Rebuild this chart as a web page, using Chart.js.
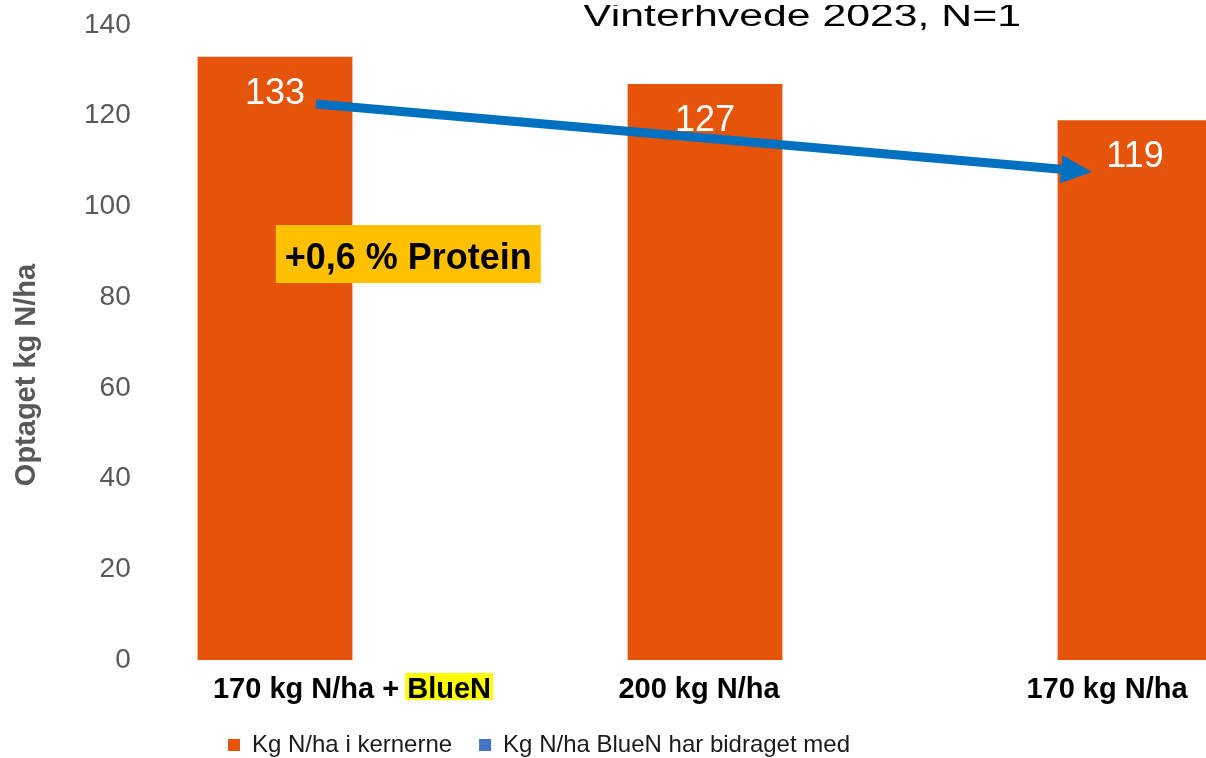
<!DOCTYPE html>
<html>
<head>
<meta charset="utf-8">
<script src="https://cdn.jsdelivr.net/npm/chart.js@4"></script>
<style>
  html, body { margin: 0; padding: 0; overflow: hidden; background: #fff; }
  #wrap { position: relative; width: 1206px; height: 758px; overflow: hidden; }
  canvas { position: absolute; left: 0; top: 0; }
</style>
</head>
<body>
<div id="wrap"><canvas id="chart" width="1350" height="758" style="width:1350px;height:758px"></canvas></div>
<script>
// data
const categories = ['170 kg N/ha + BlueN', '200 kg N/ha', '170 kg N/ha'];
const kernelN = [133, 127, 119];
const bluenN = [0, 0, 0];
const seriesNames = ['Kg N/ha i kernerne', 'Kg N/ha BlueN har bidraget med'];
const yMax = 140;
const yStep = 20;

const chartTitle = 'Vinterhvede 2023, N=1';
const yTitle = 'Optaget kg N/ha';
const highlightWord = 'BlueN';
const proteinNote = '+0,6 % Protein';

// annotation anchors in data units (category index, kg N/ha)
const notePos = [0.31, 89.5];
const arrowFrom = [0.095, 122.6];
const arrowTo = [1.9, 107.6];

const FONT = '"Liberation Sans", Arial, sans-serif';
const orange = '#E5540A';
const blue = '#4472C4';
const arrowBlue = '#0070C0';
const legendSize = 24;

// x label shifts (px) as they sit on the slide
const xLabelShift = [77, -6, -28];

function drawArrow(ctx, x1, y1, x2, y2) {
    const ang = Math.atan2(y2 - y1, x2 - x1);
    const headLen = 31;
    const headHalf = 14;
    const bx = x2 - headLen * Math.cos(ang);
    const by = y2 - headLen * Math.sin(ang);

    ctx.save();
    ctx.strokeStyle = arrowBlue;
    ctx.fillStyle = arrowBlue;
    ctx.lineWidth = 9;
    ctx.beginPath();
    ctx.moveTo(x1, y1);
    ctx.lineTo(bx, by);
    ctx.stroke();

    ctx.beginPath();
    ctx.moveTo(x2, y2);
    ctx.lineTo(bx + headHalf * Math.sin(ang), by - headHalf * Math.cos(ang));
    ctx.lineTo(bx - headHalf * Math.sin(ang), by + headHalf * Math.cos(ang));
    ctx.closePath();
    ctx.fill();
    ctx.restore();
}

const decorations = {
    id: 'decorations',
    afterLayout(chart) {
        // legend sits left of centre and a little lower on the slide
        const lg = chart.legend;
        const pad = lg.options.labels.padding;
        const dx = 228 - (lg.left + pad);
        lg.left += dx;
        lg.right += dx;
        const dy = 745 - (lg.top + pad + legendSize / 2);
        lg.top += dy;
        lg.bottom += dy;
    },
    afterDatasetsDraw(chart) {
        const ctx = chart.ctx;
        const xs = chart.scales.x;
        const ys = chart.scales.y;

        // values inside the bars
        ctx.save();
        ctx.fillStyle = '#ffffff';
        ctx.font = '36px ' + FONT;
        ctx.textAlign = 'center';
        ctx.textBaseline = 'alphabetic';
        chart.getDatasetMeta(0).data.forEach((bar, i) => {
            ctx.fillText(String(kernelN[i]), bar.x, bar.y + 47);
        });
        ctx.restore();

        // protein note box
        ctx.save();
        ctx.font = 'bold 36px ' + FONT;
        const nx = xs.getPixelForValue(notePos[0]);
        const ny = ys.getPixelForValue(notePos[1]);
        const tw = ctx.measureText(proteinNote).width;
        const bw = tw + 18;
        const bh = 58;
        ctx.fillStyle = '#FFC000';
        ctx.fillRect(nx - bw / 2, ny - bh / 2, bw, bh);
        ctx.fillStyle = '#000000';
        ctx.textAlign = 'center';
        ctx.textBaseline = 'alphabetic';
        ctx.fillText(proteinNote, nx, ny + 15);
        ctx.restore();

        drawArrow(ctx,
            xs.getPixelForValue(arrowFrom[0]), ys.getPixelForValue(arrowFrom[1]),
            xs.getPixelForValue(arrowTo[0]), ys.getPixelForValue(arrowTo[1]));
    },
    afterDraw(chart) {
        const ctx = chart.ctx;
        const xs = chart.scales.x;
        const area = chart.chartArea;

        // title: stretched text box, cut at the top like on the slide
        ctx.save();
        ctx.beginPath();
        ctx.rect(0, 5, chart.width, chart.height);
        ctx.clip();
        ctx.translate(802, 26);
        ctx.scale(1.38, 1);
        ctx.font = '31px ' + FONT;
        ctx.fillStyle = '#000000';
        ctx.textAlign = 'center';
        ctx.textBaseline = 'alphabetic';
        ctx.fillText(chartTitle, 0, 0);
        ctx.restore();

        // y axis title
        ctx.save();
        ctx.translate(27, 375);
        ctx.rotate(-Math.PI / 2);
        ctx.font = 'bold 29px ' + FONT;
        ctx.fillStyle = '#595959';
        ctx.textAlign = 'center';
        ctx.textBaseline = 'middle';
        ctx.fillText(yTitle, 0, 0);
        ctx.restore();

        // category labels, BlueN highlighted
        ctx.save();
        ctx.font = 'bold 29px ' + FONT;
        ctx.textBaseline = 'alphabetic';
        ctx.textAlign = 'left';
        const baseY = area.bottom + 38;
        categories.forEach((lab, i) => {
            const w = ctx.measureText(lab).width;
            const left = xs.getPixelForValue(i) + xLabelShift[i] - w / 2;
            const k = lab.indexOf(highlightWord);
            if (k >= 0) {
                const hx = left + ctx.measureText(lab.slice(0, k)).width;
                const hw = ctx.measureText(highlightWord).width;
                ctx.fillStyle = '#FFFF00';
                ctx.fillRect(hx - 2, baseY - 25, hw + 4, 27);
            }
            ctx.fillStyle = '#000000';
            ctx.fillText(lab, left, baseY);
        });
        ctx.restore();
    }
};

Chart.defaults.font.family = FONT;

new Chart(document.getElementById('chart'), {
    type: 'bar',
    data: {
        labels: categories,
        datasets: [
            {
                label: seriesNames[0],
                data: kernelN,
                backgroundColor: orange,
                borderWidth: 0,
                categoryPercentage: 1,
                barPercentage: 0.36
            },
            {
                label: seriesNames[1],
                data: bluenN,
                backgroundColor: blue,
                borderWidth: 0,
                categoryPercentage: 1,
                barPercentage: 0.36
            }
        ]
    },
    options: {
        responsive: false,
        animation: false,
        layout: { padding: { top: 25, left: 0, right: 0, bottom: 0 } },
        plugins: {
            title: { display: false },
            tooltip: { enabled: false },
            legend: {
                position: 'bottom',
                align: 'start',
                labels: {
                    boxWidth: 12,
                    boxHeight: 12,
                    padding: 27,
                    color: '#1a1a1a',
                    font: { size: legendSize }
                }
            }
        },
        scales: {
            x: {
                stacked: true,
                grid: { display: false, drawTicks: false },
                border: { display: false },
                ticks: { display: false },
                afterFit(scale) { scale.height = 37; }
            },
            y: {
                stacked: true,
                min: 0,
                max: yMax,
                grid: { display: false, drawTicks: false },
                border: { display: false },
                ticks: {
                    stepSize: yStep,
                    mirror: true,
                    crossAlign: 'far',
                    padding: 24,
                    color: '#595959',
                    font: { size: 28 }
                },
                afterFit(scale) {
                    scale.width = 60;
                    scale.paddingTop = 0;
                    scale.paddingBottom = 0;
                }
            }
        }
    },
    plugins: [decorations]
});
</script>
</body>
</html>
